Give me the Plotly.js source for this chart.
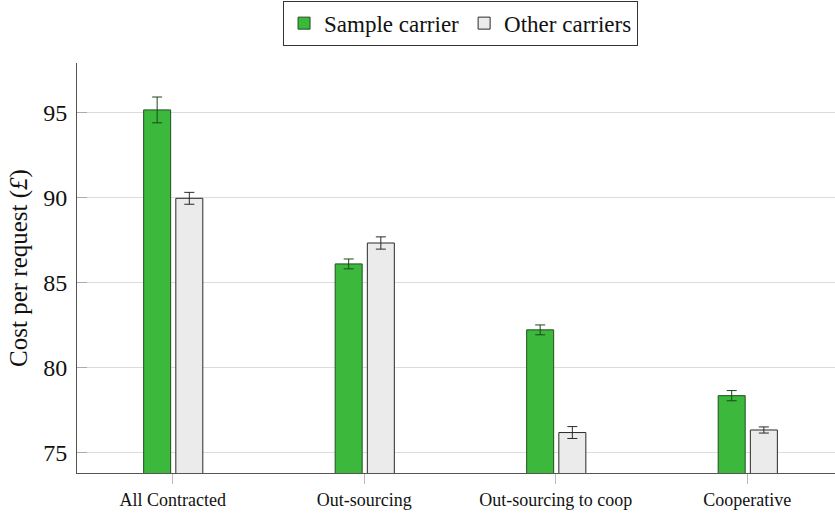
<!DOCTYPE html>
<html>
<head>
<meta charset="utf-8">
<script src="https://cdn.plot.ly/plotly-3.0.1.min.js"></script>
<style>html,body{margin:0;padding:0;background:#fff;}#chart{width:835px;height:514px;}</style>
</head>
<body>
<div id="chart"></div>
<script>
const categories = ["All Contracted", "Out-sourcing", "Out-sourcing to coop", "Cooperative"];
const sampleCarrier = [95.18, 86.12, 82.24, 78.37];
const sampleCarrierErr = [0.76, 0.29, 0.29, 0.3];
const otherCarriers = [89.98, 87.35, 76.2, 76.35];
const otherCarriersErr = [0.35, 0.36, 0.35, 0.18];
const yTicks = [75, 80, 85, 90, 95];

const serif = "'Liberation Serif', 'Times New Roman', serif";

const traces = [
  {
    type: "bar", name: "Sample carrier", x: categories, y: sampleCarrier,
    width: 0.141, offset: -0.152,
    marker: {color: "#3cb93c", line: {color: "#1f4f1f", width: 1}},
    error_y: {type: "data", array: sampleCarrierErr, visible: true, color: "#1a4a1a", thickness: 1, width: 5}
  },
  {
    type: "bar", name: "Other carriers", x: categories, y: otherCarriers,
    width: 0.141, offset: 0.016,
    marker: {color: "#ebebeb", line: {color: "#2a2a2a", width: 1}},
    error_y: {type: "data", array: otherCarriersErr, visible: true, color: "#2a2a2a", thickness: 1, width: 5}
  }
];

const layout = {
  width: 835, height: 514,
  margin: {l: 77, r: 0, t: 63, b: 41},
  paper_bgcolor: "#fff", plot_bgcolor: "#fff",
  font: {family: serif, color: "#111"},
  showlegend: true,
  legend: {
    orientation: "h", x: 0.506, xanchor: "center", y: 1.152, yanchor: "top",
    bordercolor: "#333", borderwidth: 1, bgcolor: "#fff",
    font: {family: serif, size: 23, color: "#111"},
    itemwidth: 30, tracegroupgap: 0
  },
  xaxis: {
    type: "category", range: [-0.5, 3.458],
    showline: true, linecolor: "#555", linewidth: 1, mirror: false,
    ticks: "outside", ticklen: 10, tickcolor: "#bbb", tickwidth: 1,
    showgrid: false, zeroline: false,
    tickfont: {family: serif, size: 18, color: "#111"}
  },
  yaxis: {
    range: [73.82, 97.94],
    tickvals: yTicks, ticktext: yTicks.map(String),
    showline: true, linecolor: "#555", linewidth: 1,
    ticks: "inside", ticklen: 10, tickcolor: "#aaa", tickwidth: 1,
    ticklabelstandoff: 4,
    showgrid: true, gridcolor: "#dcdcdc", gridwidth: 1, zeroline: false,
    tickfont: {family: serif, size: 24, color: "#111"},
    title: {text: "Cost per request (<i>£</i>)", font: {family: serif, size: 25, color: "#111"}, standoff: 8}
  },
  bargap: 0.5
};

Plotly.newPlot("chart", traces, layout, {displayModeBar: false, staticPlot: true});
</script>
</body>
</html>
